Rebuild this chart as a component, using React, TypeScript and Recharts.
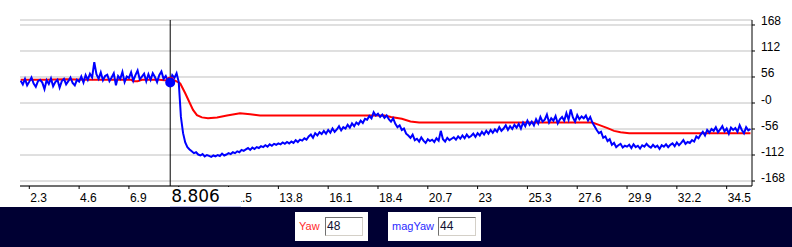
import { LineChart, Line, XAxis, YAxis, CartesianGrid, ReferenceLine, ReferenceDot } from 'recharts'

// time axis
const xTicks = [2.3, 4.6, 6.9, 9.2, 11.5, 13.8, 16.1, 18.4, 20.7, 23, 25.3, 27.6, 29.9, 32.2, 34.5]
const yTicks = [-168, -112, -56, 0, 56, 112, 168]
const xDomain = [1.87, 35.67]

// magYaw sampled every 0.1 s starting at 1.9
const magYawStart = 1.9
const magYawStep = 0.1
const magYawValues = [
  48, 40, 52, 38, 46, 55, 42, 35, 47, 50,
  44, 30, 49, 41, 53, 36, 45, 50, 33, 47,
  52, 40, 47, 55, 43, 38, 50, 46, 57, 44,
  60, 50, 63, 55, 88, 62, 52, 66, 49, 58,
  61, 47, 55, 64, 38, 58, 52, 67, 45, 57,
  54, 66, 48, 60, 70, 51, 57, 63, 47, 62,
  50, 64, 56, 45, 60, 68, 52, 58, 47, 44,
  60, 54, 64, 45, -30, -65, -85, -95, -100, -104,
  -108, -106, -111, -113, -110, -115, -112, -114, -116, -113,
  -115, -112, -114, -109, -113, -111, -108, -110, -106, -108,
  -104, -106, -101, -103, -100, -97, -101, -96, -99, -95,
  -97, -93, -95, -91, -94, -89, -92, -88, -90, -87,
  -89, -85, -88, -84, -87, -83, -86, -80, -84, -79,
  -81, -76, -79, -72, -68, -75, -65, -70, -63, -67,
  -60, -66, -58, -64, -55, -62, -57, -50, -59, -52,
  -55, -47, -53, -44, -50, -42, -46, -38, -43, -34,
  -36, -28, -33, -20, -27, -23, -30, -25, -32, -27,
  -35, -40, -33, -45, -52, -48, -58, -55, -66, -70,
  -75, -68, -80, -77, -83, -74, -81, -86, -78, -82,
  -79, -84, -76, -81, -60, -78, -83, -75, -80, -77,
  -74, -79, -72, -77, -70, -76, -68, -74, -71, -66,
  -73, -65, -70, -62, -68, -60, -66, -58, -64, -57,
  -62, -52, -60, -55, -48, -58, -50, -56, -47, -53,
  -45, -55, -42, -50, -38, -47, -40, -48, -35, -44,
  -30, -40, -36, -25, -42, -33, -38, -28, -44, -35,
  -30, -38, -22, -36, -14, -31, -40, -26, -35, -29,
  -33, -27, -38, -30, -42, -50, -58, -65, -62, -75,
  -72, -82, -78, -90, -86, -95, -91, -88, -96, -92,
  -94, -90, -97, -89, -95, -92, -98, -91, -94, -88,
  -93, -96, -90, -95, -92, -99, -91, -94, -89, -95,
  -90, -87, -93, -85, -91, -86, -80, -88, -84, -86,
  -80, -83, -72, -76, -68, -62, -70, -58, -64, -56,
  -60, -52, -63, -57, -50, -61, -55, -66, -53, -58,
  -54, -62, -48, -58, -65, -52, -59, -56,
]

// Yaw (smooth)
const yawTimes = [1.9, 3, 4, 5, 6, 7, 7.1, 7.3, 7.5, 8.3, 8.8, 9, 9.27, 9.5, 9.72, 9.86, 10.04, 10.27, 10.55, 10.97, 11.43, 12.03, 12.5, 12.95, 15, 18.7, 19, 19.5, 19.9, 20.3, 28.3, 28.6, 29, 29.3, 29.6, 30, 35.6]
const yawValues = [50, 50, 51, 50, 50, 50, 47, 47, 50, 50, 48, 49, 42, 21, -1, -15, -26, -31, -33, -31, -27, -22, -24, -27, -27, -27, -30, -34, -40, -42, -42, -47, -54, -60, -63, -65, -65]

const cursorTime = 8.806
const cursorYaw = 48
const cursorMagYaw = 44

const magYawData = magYawValues.map((v, i) => ({ t: +(magYawStart + i * magYawStep).toFixed(2), v }))
const yawData = yawTimes.map((t, i) => ({ t, v: yawValues[i] }))

const W = 792
const H = 207
const margin = { top: 20, right: 0, bottom: 0, left: 20 }
const yAxisWidth = 40
const xAxisHeight = 21
const plotW = W - margin.left - margin.right - yAxisWidth
const cursorLeft = margin.left + ((cursorTime - xDomain[0]) / (xDomain[1] - xDomain[0])) * plotW

const font = '"Liberation Sans", Arial, sans-serif'

const XTick = ({ x, y, payload }: any) => (
  <text x={x + 1} y={y} dy={11} fontSize={12} fontFamily={font} fill="#000" textAnchor="start">
    {payload.value}
  </text>
)

const YTick = ({ x, y, payload }: any) => (
  <text x={x + 4} y={y} dy={0.5} fontSize={12} fontFamily={font} fill="#000" textAnchor="start">
    {payload.value === 0 ? '-0' : payload.value}
  </text>
)

const Field = ({ left, width, label, color, inputLeft, value }: any) => (
  <div style={{ position: 'absolute', left, top: 212, width, height: 29, background: '#fff' }}>
    <span style={{ position: 'absolute', left: 4, top: 8, fontSize: 11, color, fontFamily: font }}>{label}</span>
    <div
      style={{
        position: 'absolute',
        left: inputLeft,
        top: 5,
        width: 35,
        height: 17,
        borderTop: '1px solid #707070',
        borderLeft: '1px solid #707070',
        borderBottom: '1px solid #d4d0c8',
        borderRight: '1px solid #d4d0c8',
        fontSize: 12,
        fontFamily: font,
        color: '#101030',
        lineHeight: '17px',
        paddingLeft: 1,
        boxSizing: 'content-box',
      }}
    >
      {value}
    </div>
  </div>
)

export default function App() {
  return (
    <div style={{ position: 'absolute', left: 0, top: 0, width: W, height: 247, background: '#000033' }}>
      <div style={{ position: 'absolute', left: 0, top: 0, width: W, height: H, background: '#fff' }}>
        <LineChart width={W} height={H} margin={margin}>
          <CartesianGrid vertical={false} stroke="#c0c0c0" />
          <XAxis
            type="number"
            dataKey="t"
            domain={xDomain}
            ticks={xTicks}
            allowDataOverflow
            height={xAxisHeight}
            tickSize={3}
            axisLine={{ stroke: '#000' }}
            tickLine={{ stroke: '#000' }}
            tick={<XTick />}
          />
          <YAxis
            orientation="right"
            type="number"
            domain={[-178.75, 178.75]}
            ticks={yTicks}
            allowDataOverflow
            width={yAxisWidth}
            tickSize={3}
            axisLine={{ stroke: '#000' }}
            tickLine={{ stroke: '#000' }}
            tick={<YTick />}
          />
          <Line data={yawData} dataKey="v" type="linear" stroke="#ff0000" strokeWidth={2} dot={false} activeDot={false} isAnimationActive={false} />
          <Line data={magYawData} dataKey="v" type="linear" stroke="#0000ff" strokeWidth={2} dot={false} activeDot={false} isAnimationActive={false} />
          <ReferenceDot x={cursorTime} y={cursorYaw} r={4} fill="#ff0000" stroke="none" />
          <ReferenceDot x={cursorTime} y={cursorMagYaw} r={5} fill="#0000ff" stroke="none" />
          <ReferenceLine x={cursorTime} stroke="#000" />
        </LineChart>
        {/* cursor readout box, covers the tick labels under it */}
        <div
          style={{
            position: 'absolute',
            left: cursorLeft,
            top: H - xAxisHeight + 1,
            width: 70,
            height: 19,
            background: '#fff',
            borderBottom: '1px solid #c8c8f0',
            fontFamily: '"DejaVu Sans", sans-serif',
            fontSize: 17,
            lineHeight: '19px',
            color: '#000',
            paddingLeft: 1,
            boxSizing: 'content-box',
          }}
        >
          {cursorTime}
        </div>
      </div>
      <Field left={295} width={73} label="Yaw" color="#ff2a2a" inputLeft={30} value="48" />
      <Field left={388} width={93} label="magYaw" color="#2a2aff" inputLeft={50} value="44" />
    </div>
  )
}
